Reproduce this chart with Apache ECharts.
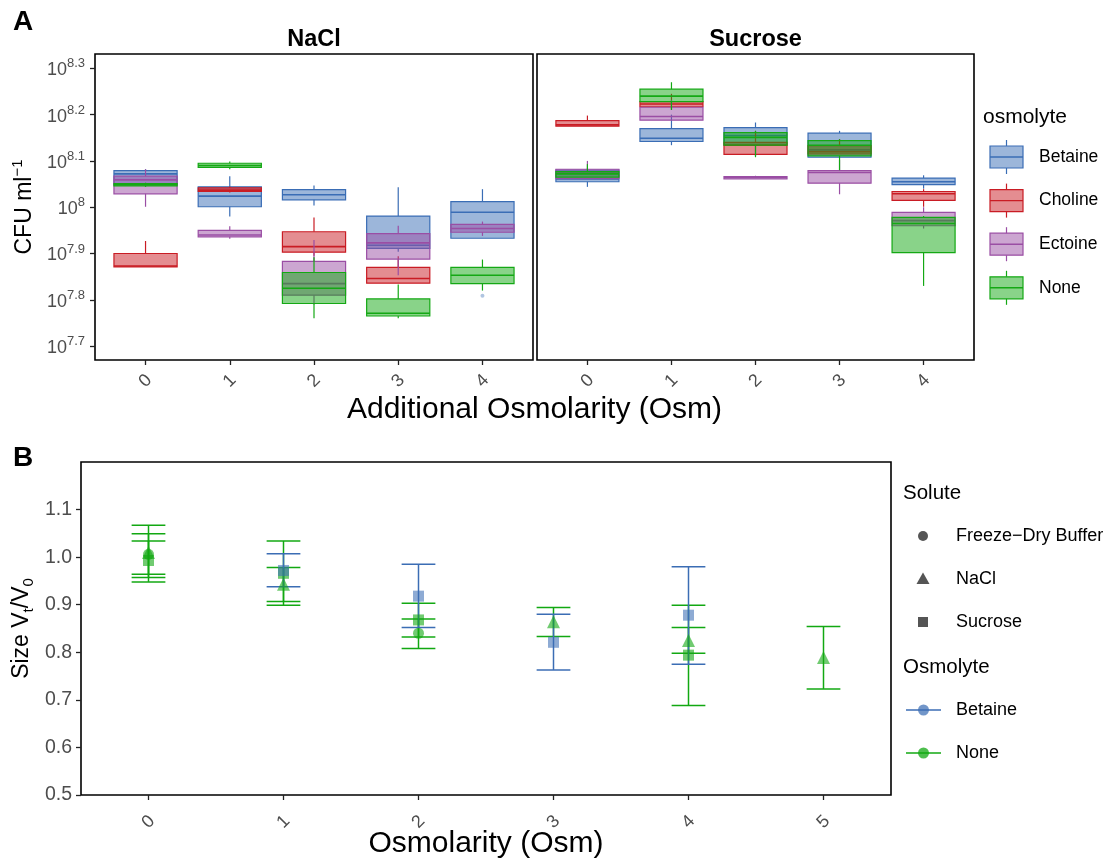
<!DOCTYPE html>
<html>
<head>
<meta charset="utf-8">
<script src="https://cdn.jsdelivr.net/npm/echarts@6/dist/echarts.min.js"></script>
<style>
  html, body { margin: 0; padding: 0; background: #fff; }
  #chart { width: 1108px; height: 860px; }
</style>
</head>
<body>
<div id="chart"></div>
<script>
// ---------- Panel A: viable counts (log10 CFU per ml) ----------
// Box statistics per osmolarity: [osmolarity, lowerWhisker, q1, median, q3, upperWhisker]
const osmolytes = ['Betaine', 'Choline', 'Ectoine', 'None'];
const facetsA = ['NaCl', 'Sucrose'];
const osmolarityA = [0, 1, 2, 3, 4];
const log10TicksA = [7.7, 7.8, 7.9, 8.0, 8.1, 8.2, 8.3];

const naclBetaine = [[0, 8.045, 8.049, 8.072, 8.079, 8.082], [1, 7.980, 8.001, 8.024, 8.044, 8.067], [2, 8.004, 8.016, 8.027, 8.038, 8.047], [3, 7.904, 7.911, 7.918, 7.981, 8.043], [4, 7.933, 7.933, 7.989, 8.012, 8.039]];
const naclCholine = [[0, 7.871, 7.871, 7.873, 7.900, 7.927], [1, 8.032, 8.034, 8.037, 8.042, 8.045], [2, 7.895, 7.903, 7.915, 7.947, 7.978], [3, 7.836, 7.836, 7.846, 7.870, 7.894]];
const naclEctoine = [[0, 8.001, 8.029, 8.059, 8.067, 8.082], [1, 7.932, 7.936, 7.940, 7.950, 7.959], [2, 7.790, 7.810, 7.835, 7.883, 7.929], [3, 7.853, 7.888, 7.923, 7.943, 7.960], [4, 7.938, 7.946, 7.954, 7.963, 7.969]];
const naclNone = [[0, 8.044, 8.046, 8.049, 8.051, 8.053], [1, 8.082, 8.086, 8.090, 8.095, 8.099], [2, 7.760, 7.792, 7.825, 7.859, 7.892], [3, 7.760, 7.765, 7.771, 7.802, 7.833], [4, 7.820, 7.835, 7.853, 7.870, 7.887]];
const naclOutliers = [['Betaine', 4, 7.809]];

const sucroseBetaine = [[0, 8.044, 8.055, 8.061, 8.080, 8.084], [1, 8.134, 8.142, 8.149, 8.170, 8.200], [2, 8.110, 8.134, 8.155, 8.172, 8.183], [3, 8.108, 8.108, 8.124, 8.160, 8.165], [4, 8.040, 8.049, 8.055, 8.063, 8.069]];
const sucroseCholine = [[0, 8.175, 8.175, 8.178, 8.187, 8.198], [1, 8.211, 8.217, 8.223, 8.228, 8.245], [2, 8.114, 8.114, 8.134, 8.140, 8.165], [3, 8.115, 8.115, 8.120, 8.133, 8.147], [4, 8.001, 8.015, 8.029, 8.034, 8.039]];
const sucroseEctoine = [[0, 8.062, 8.062, 8.075, 8.082, 8.100], [1, 8.188, 8.188, 8.196, 8.216, 8.232], [2, 8.061, 8.061, 8.064, 8.066, 8.068], [3, 8.028, 8.052, 8.075, 8.079, 8.102], [4, 7.954, 7.960, 7.971, 7.989, 8.000]];
const sucroseNone = [[0, 8.065, 8.065, 8.072, 8.077, 8.093], [1, 8.210, 8.228, 8.240, 8.255, 8.270], [2, 8.108, 8.134, 8.151, 8.161, 8.165], [3, 8.080, 8.111, 8.134, 8.144, 8.147], [4, 7.830, 7.902, 7.965, 7.978, 7.981]];
const sucroseOutliers = [];

// ---------- Panel B: relative cell size ----------
// [osmolarity, mean, lower, upper]
const solutesB = ['Freeze\u2212Dry Buffer', 'NaCl', 'Sucrose'];
const osmolytesB = ['Betaine', 'None'];
const osmolarityB = [0, 1, 2, 3, 4, 5];
const sizeTicksB = [0.5, 0.6, 0.7, 0.8, 0.9, 1.0, 1.1];

const sizeBufferNone = [[0, 1.006, 0.957, 1.049], [2, 0.840, 0.808, 0.870]];
const sizeNaclNone = [[0, 1.010, 0.948, 1.067], [1, 0.943, 0.907, 0.978], [3, 0.864, 0.833, 0.894], [4, 0.825, 0.798, 0.852], [5, 0.789, 0.723, 0.854]];
const sizeSucroseNone = [[0, 0.993, 0.964, 1.034], [1, 0.966, 0.899, 1.034], [2, 0.868, 0.832, 0.903], [4, 0.794, 0.688, 0.899]];
const sizeSucroseBetaine = [[1, 0.972, 0.938, 1.007], [2, 0.918, 0.852, 0.985], [3, 0.821, 0.763, 0.880], [4, 0.878, 0.775, 0.980]];

// ---------- styling ----------
const FONT = '"Liberation Sans", Arial, Helvetica, sans-serif';
const TICK_GREY = '#4d4d4d';
const lineColor = { Betaine: '#3A6DB5', Choline: '#C91C24', Ectoine: '#9A4EA4', None: '#14A814' };
const fillColor = { Betaine: 'rgba(58,109,181,0.5)', Choline: 'rgba(201,28,36,0.5)', Ectoine: 'rgba(154,78,164,0.5)', None: 'rgba(20,168,20,0.5)' };
const barColor = { Betaine: '#3B6DB4', None: '#12A812' };
const pointColor = { Betaine: 'rgba(59,109,180,0.72)', None: 'rgba(18,168,18,0.75)' };
const shapeOf = { 'Freeze\u2212Dry Buffer': 'circle', 'NaCl': 'triangle', 'Sucrose': 'rect' };
const BOX_WIDTH = 0.75;
const CAP_WIDTH = 0.25;

const gridA0 = { left: 95, top: 54, width: 438, height: 306 };
const gridA1 = { left: 537, top: 54, width: 437, height: 306 };
const gridB = { left: 81, top: 462, width: 810, height: 333 };

function boxRenderer(name) {
  const stroke = lineColor[name], fill = fillColor[name];
  return function (params, api) {
    const x = api.value(0);
    const pLw = api.coord([x, api.value(1)]);
    const pQ1 = api.coord([x, api.value(2)]);
    const pMed = api.coord([x, api.value(3)]);
    const pQ3 = api.coord([x, api.value(4)]);
    const pUw = api.coord([x, api.value(5)]);
    const half = api.size([BOX_WIDTH, 0])[0] / 2;
    const cx = pMed[0];
    const ls = { stroke: stroke, lineWidth: 1.2 };
    return {
      type: 'group',
      children: [
        { type: 'line', shape: { x1: cx, y1: pUw[1], x2: cx, y2: pQ3[1] }, style: ls },
        { type: 'line', shape: { x1: cx, y1: pQ1[1], x2: cx, y2: pLw[1] }, style: ls },
        { type: 'rect', shape: { x: cx - half, y: pQ3[1], width: 2 * half, height: Math.max(pQ1[1] - pQ3[1], 0.5) },
          style: { fill: fill, stroke: stroke, lineWidth: 1.2 } },
        { type: 'line', shape: { x1: cx - half, y1: pMed[1], x2: cx + half, y2: pMed[1] }, style: { stroke: stroke, lineWidth: 1.6 } }
      ]
    };
  };
}

function errorRenderer(name) {
  const c = barColor[name];
  return function (params, api) {
    const x = api.value(0);
    const pLo = api.coord([x, api.value(2)]);
    const pHi = api.coord([x, api.value(3)]);
    const half = api.size([CAP_WIDTH, 0])[0] / 2;
    const cx = pLo[0];
    const ls = { stroke: c, lineWidth: 1.5 };
    return {
      type: 'group',
      children: [
        { type: 'line', shape: { x1: cx, y1: pHi[1], x2: cx, y2: pLo[1] }, style: ls },
        { type: 'line', shape: { x1: cx - half, y1: pHi[1], x2: cx + half, y2: pHi[1] }, style: ls },
        { type: 'line', shape: { x1: cx - half, y1: pLo[1], x2: cx + half, y2: pLo[1] }, style: ls }
      ]
    };
  };
}

const boxSets = [
  { facet: 0, data: { Betaine: naclBetaine, Choline: naclCholine, Ectoine: naclEctoine, None: naclNone }, outliers: naclOutliers },
  { facet: 1, data: { Betaine: sucroseBetaine, Choline: sucroseCholine, Ectoine: sucroseEctoine, None: sucroseNone }, outliers: sucroseOutliers }
];

const sizeGroups = [
  { solute: solutesB[0], osmolyte: 'None', data: sizeBufferNone },
  { solute: solutesB[1], osmolyte: 'None', data: sizeNaclNone },
  { solute: solutesB[2], osmolyte: 'None', data: sizeSucroseNone },
  { solute: solutesB[2], osmolyte: 'Betaine', data: sizeSucroseBetaine }
];

const series = [];
boxSets.forEach(function (set) {
  osmolytes.forEach(function (name) {
    const d = set.data[name];
    if (!d || !d.length) return;
    series.push({
      type: 'custom', name: name + ' (' + facetsA[set.facet] + ')',
      xAxisIndex: set.facet, yAxisIndex: set.facet,
      renderItem: boxRenderer(name),
      encode: { x: 0, y: [1, 2, 3, 4, 5] },
      data: d, clip: false, silent: true
    });
  });
  set.outliers.forEach(function (o) {
    series.push({
      type: 'scatter', xAxisIndex: set.facet, yAxisIndex: set.facet,
      data: [[o[1], o[2]]], symbol: 'circle', symbolSize: 4,
      itemStyle: { color: fillColor[o[0]] }, silent: true
    });
  });
});

// error bars first, points above them
sizeGroups.forEach(function (g) {
  series.push({
    type: 'custom', xAxisIndex: 2, yAxisIndex: 2,
    renderItem: errorRenderer(g.osmolyte),
    encode: { x: 0, y: [1, 2, 3] },
    data: g.data, clip: false, silent: true
  });
});
sizeGroups.forEach(function (g) {
  series.push({
    type: 'scatter', xAxisIndex: 2, yAxisIndex: 2,
    data: g.data.map(function (r) { return [r[0], r[1]]; }),
    symbol: shapeOf[g.solute],
    symbolSize: g.solute === 'NaCl' ? 13 : 11,
    itemStyle: { color: pointColor[g.osmolyte] }, silent: true
  });
});

function supLabel(v) {
  const e = Math.abs(v - Math.round(v)) < 1e-9 ? String(Math.round(v)) : v.toFixed(1);
  return '{b|10}{s|' + e + '}';
}

const axisTickStyle = { length: 5, lineStyle: { color: '#222', width: 1.3 } };

function xAxisA(idx) {
  return {
    type: 'value', gridIndex: idx, min: -0.6, max: 4.6,
    axisLine: { show: false, onZero: false }, splitLine: { show: false },
    axisTick: Object.assign({ show: true, customValues: osmolarityA }, axisTickStyle),
    axisLabel: { show: true, customValues: osmolarityA, rotate: 45, align: 'center', verticalAlign: 'middle',
      margin: 21, color: TICK_GREY, fontSize: 18, fontFamily: FONT }
  };
}

const option = {
  animation: false,
  backgroundColor: '#ffffff',
  textStyle: { fontFamily: FONT },
  grid: [
    Object.assign({ show: true, borderColor: '#000', borderWidth: 1.6, backgroundColor: 'transparent' }, gridA0),
    Object.assign({ show: true, borderColor: '#000', borderWidth: 1.6, backgroundColor: 'transparent' }, gridA1),
    Object.assign({ show: true, borderColor: '#000', borderWidth: 1.6, backgroundColor: 'transparent' }, gridB)
  ],
  xAxis: [
    xAxisA(0),
    xAxisA(1),
    {
      type: 'value', gridIndex: 2, min: -0.5, max: 5.5,
      axisLine: { show: false, onZero: false }, splitLine: { show: false },
      axisTick: Object.assign({ show: true, customValues: osmolarityB }, axisTickStyle),
      axisLabel: { show: true, customValues: osmolarityB, rotate: 45, align: 'center', verticalAlign: 'middle',
        margin: 27, color: TICK_GREY, fontSize: 18, fontFamily: FONT }
    }
  ],
  yAxis: [
    {
      type: 'value', gridIndex: 0, min: 7.67, max: 8.331,
      axisLine: { show: false, onZero: false }, splitLine: { show: false },
      axisTick: Object.assign({ show: true, customValues: log10TicksA }, axisTickStyle),
      axisLabel: {
        show: true, customValues: log10TicksA, margin: 10, formatter: supLabel,
        rich: {
          b: { fontSize: 18, color: TICK_GREY, fontFamily: FONT, verticalAlign: 'bottom' },
          s: { fontSize: 13, color: TICK_GREY, fontFamily: FONT, verticalAlign: 'bottom', padding: [0, 0, 9, 0] }
        }
      }
    },
    {
      type: 'value', gridIndex: 1, min: 7.67, max: 8.331,
      axisLine: { show: false, onZero: false }, splitLine: { show: false }, axisTick: { show: false }, axisLabel: { show: false }
    },
    {
      type: 'value', gridIndex: 2, min: 0.5, max: 1.2,
      axisLine: { show: false, onZero: false }, splitLine: { show: false },
      axisTick: Object.assign({ show: true, customValues: sizeTicksB }, axisTickStyle),
      axisLabel: { show: true, customValues: sizeTicksB, margin: 9, color: TICK_GREY, fontSize: 19.5, fontFamily: FONT,
        formatter: function (v) { return v.toFixed(1); } }
    }
  ],
  series: series
};

// ---------- titles, strips and legends ----------
const graphics = [];
function txt(x, y, text, style, extra) {
  graphics.push(Object.assign({
    type: 'text', x: x, y: y, silent: true,
    style: Object.assign({ text: text, fill: '#000', fontFamily: FONT, fontSize: 16, align: 'left', verticalAlign: 'middle' }, style)
  }, extra || {}));
}

// panel tags
txt(13, 22, 'A', { fontSize: 28, fontWeight: 'bold' });
txt(13, 458, 'B', { fontSize: 28, fontWeight: 'bold' });

// facet strips
txt(gridA0.left + gridA0.width / 2, 40, facetsA[0], { fontSize: 23.5, fontWeight: 'bold', align: 'center' });
txt(gridA1.left + gridA1.width / 2, 40, facetsA[1], { fontSize: 23.5, fontWeight: 'bold', align: 'center' });

// axis titles
txt((gridA0.left + gridA1.left + gridA1.width) / 2, 410, 'Additional Osmolarity (Osm)', { fontSize: 30, align: 'center' });
txt(gridB.left + gridB.width / 2, 844, 'Osmolarity (Osm)', { fontSize: 30, align: 'center' });
txt(23, gridA0.top + gridA0.height / 2, '{m|CFU ml}{s|\u22121}', {
  align: 'center',
  rich: {
    m: { fontSize: 23, fontFamily: FONT, fill: '#000', verticalAlign: 'bottom' },
    s: { fontSize: 15, fontFamily: FONT, fill: '#000', verticalAlign: 'bottom', padding: [0, 0, 11, 0] }
  }
}, { rotation: Math.PI / 2 });
txt(23, gridB.top + gridB.height / 2, '{m|Size V}{d|t}{m|/V}{d|0}', {
  align: 'center',
  rich: {
    m: { fontSize: 23, fontFamily: FONT, fill: '#000', verticalAlign: 'top' },
    d: { fontSize: 15, fontFamily: FONT, fill: '#000', verticalAlign: 'top', padding: [11, 0, 0, 0] }
  }
}, { rotation: Math.PI / 2 });

// legend A: osmolyte box keys
txt(983, 117, 'osmolyte', { fontSize: 21 });
osmolytes.forEach(function (name, i) {
  const cy = 157 + i * 43.6;
  const x0 = 990, w = 33, cx = x0 + w / 2;
  graphics.push({ type: 'line', silent: true, shape: { x1: cx, y1: cy - 17, x2: cx, y2: cy + 17 }, style: { stroke: lineColor[name], lineWidth: 1.2 } });
  graphics.push({ type: 'rect', silent: true, shape: { x: x0, y: cy - 11, width: w, height: 22 }, style: { fill: '#fff', stroke: null } });
  graphics.push({ type: 'rect', silent: true, shape: { x: x0, y: cy - 11, width: w, height: 22 }, style: { fill: fillColor[name], stroke: lineColor[name], lineWidth: 1.2 } });
  graphics.push({ type: 'line', silent: true, shape: { x1: x0, y1: cy, x2: x0 + w, y2: cy }, style: { stroke: lineColor[name], lineWidth: 1.4 } });
  txt(1039, cy, name, { fontSize: 17.5 });
});

// legend B: solute shapes and osmolyte colours
txt(903, 493, 'Solute', { fontSize: 20.5 });
solutesB.forEach(function (name, i) {
  const cy = 536 + i * 43;
  const shp = shapeOf[name];
  if (shp === 'circle') {
    graphics.push({ type: 'circle', silent: true, shape: { cx: 923, cy: cy, r: 5 }, style: { fill: '#555' } });
  } else if (shp === 'triangle') {
    graphics.push({ type: 'polygon', silent: true, shape: { points: [[923, cy - 6.5], [929.5, cy + 5], [916.5, cy + 5]] }, style: { fill: '#555' } });
  } else {
    graphics.push({ type: 'rect', silent: true, shape: { x: 918, y: cy - 5, width: 10, height: 10 }, style: { fill: '#555' } });
  }
  txt(956, cy, name, { fontSize: 18 });
});
txt(903, 667, 'Osmolyte', { fontSize: 20.5 });
osmolytesB.forEach(function (name, i) {
  const cy = 710 + i * 43;
  graphics.push({ type: 'line', silent: true, shape: { x1: 906, y1: cy, x2: 941, y2: cy }, style: { stroke: barColor[name], lineWidth: 1.5 } });
  graphics.push({ type: 'circle', silent: true, shape: { cx: 923.5, cy: cy, r: 5.5 }, style: { fill: pointColor[name] } });
  txt(956, cy, name, { fontSize: 18 });
});

option.graphic = { elements: graphics };

const chart = echarts.init(document.getElementById('chart'), null, { renderer: 'canvas' });
chart.setOption(option);
</script>
</body>
</html>
